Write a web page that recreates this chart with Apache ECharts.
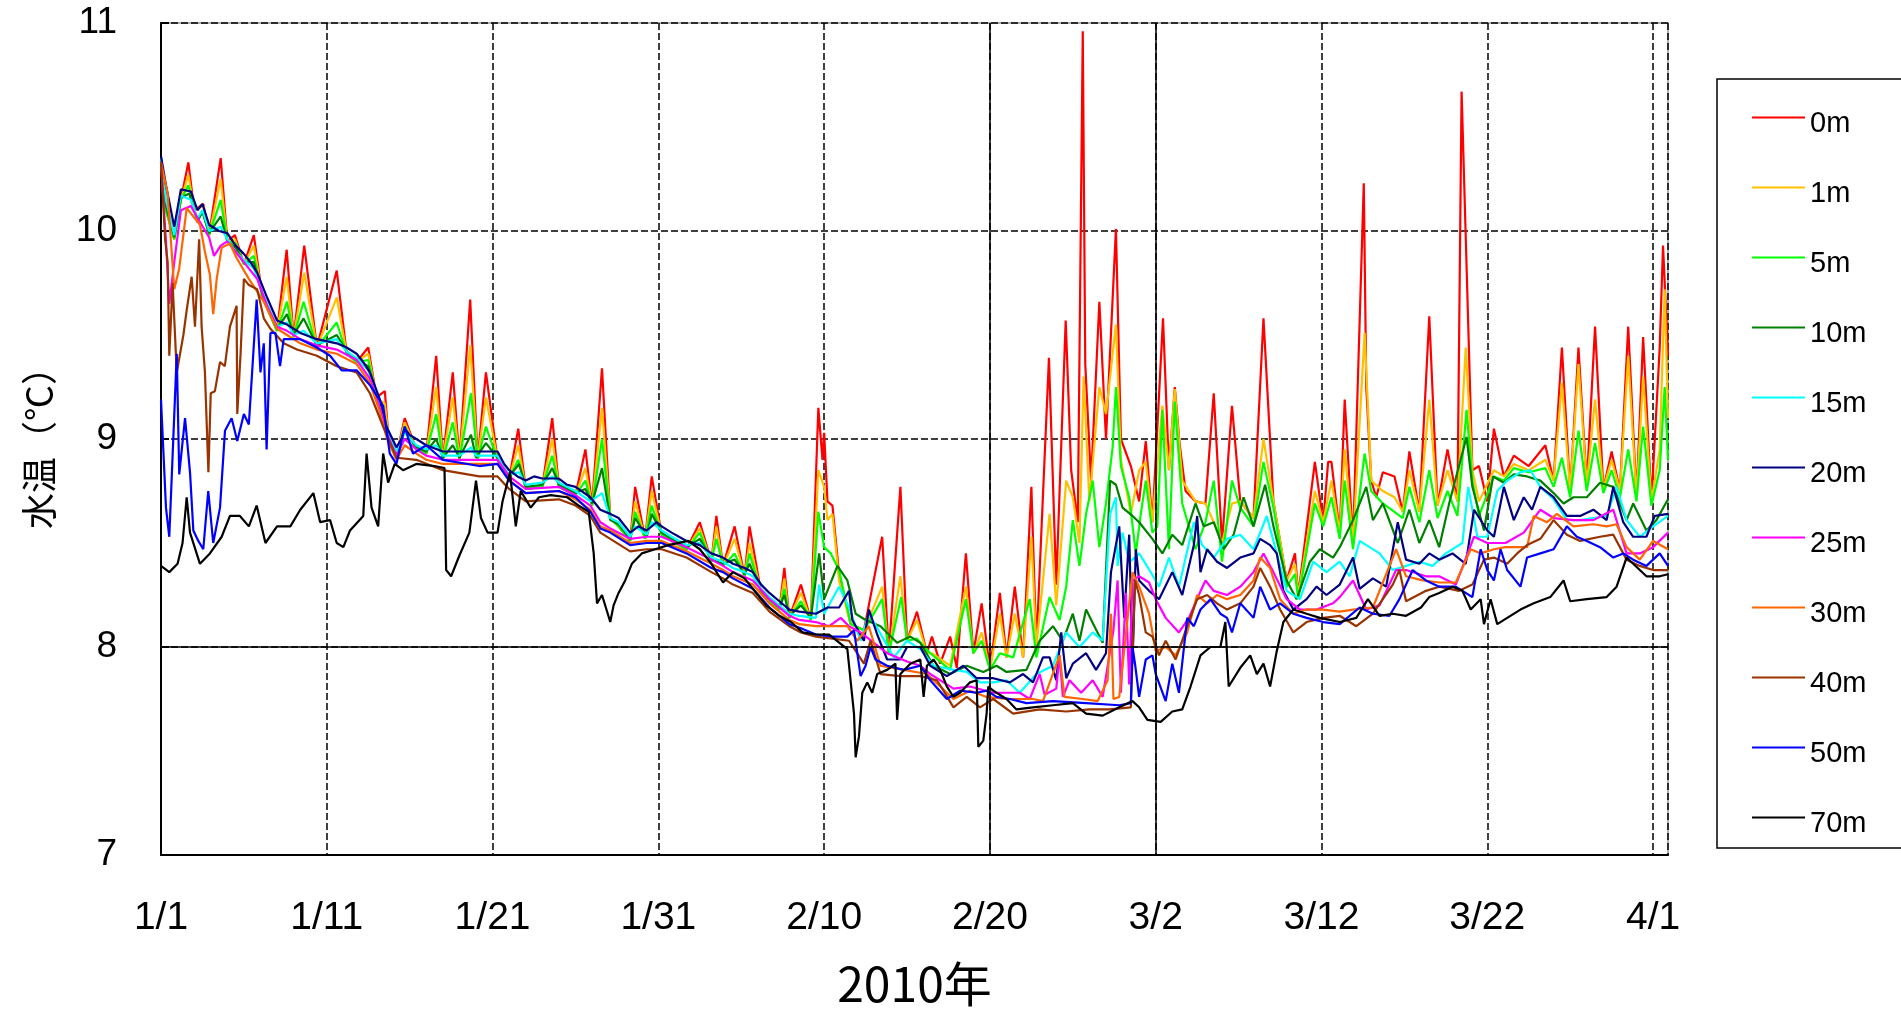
<!DOCTYPE html>
<html>
<head>
<meta charset="utf-8">
<script src="https://cdn.jsdelivr.net/npm/echarts@6/dist/echarts.min.js"></script>
<style>
html,body{margin:0;padding:0;background:#fff;}
#chart{width:1901px;height:1009px;}
</style>
</head>
<body>
<div id="chart"></div>
<script>
// x = days since 2010-01-01, y = water temperature (°C); stored as flat [day, value, day, value, ...]
const seriesNames = ['0m','1m','5m','10m','15m','20m','25m','30m','40m','50m','70m'];
const tickLabels = ['1/1','1/11','1/21','1/31','2/10','2/20','3/2','3/12','3/22','4/1'];
const yTicks = [7,8,9,10,11];

const s0m = [0,10.35, 0.3,10.1, 0.8,9.96, 1.2,10.15, 1.65,10.33, 2.0,10.1, 2.55,10.13, 2.9,9.98, 3.6,10.35, 4.0,9.95, 4.46,9.98, 5.0,9.84, 5.6,9.98, 6.1,9.69, 6.4,9.63, 7.0,9.52, 7.58,9.91, 8.0,9.49, 8.64,9.93, 9.4,9.44, 10.6,9.81, 11.2,9.41, 11.8,9.37, 12.5,9.44, 13.0,9.2, 13.5,9.23, 13.7,9.03, 14.2,8.92, 14.7,9.1, 15.4,8.95, 16.0,8.93, 16.6,9.40, 17.0,8.9, 17.6,9.32, 18.0,8.9, 18.65,9.67, 19.1,8.9, 19.6,9.32, 20.3,8.9, 21.0,8.81, 21.55,9.05, 22.0,8.76, 23.0,8.77, 23.6,9.10, 24.0,8.77, 25.0,8.73, 25.6,8.95, 26.0,8.68, 26.6,9.34, 27.1,8.62, 27.6,8.58, 28.3,8.51, 28.6,8.77, 29.2,8.52, 29.6,8.82, 30.2,8.54, 30.8,8.51, 31.7,8.47, 32.5,8.60, 33.2,8.41, 33.5,8.63, 33.9,8.39, 34.6,8.58, 35.2,8.34, 35.5,8.58, 36.2,8.26, 36.7,8.22, 37.3,8.18, 37.6,8.38, 37.9,8.14, 38.6,8.30, 39.2,8.13, 39.65,9.15, 39.9,8.9, 40.0,9.03, 40.2,8.7, 40.5,8.68, 40.9,8.35, 41.6,8.11, 42.4,8.08, 43.5,8.53, 43.9,7.97, 44.6,8.77, 45.0,8.03, 45.6,8.17, 46.2,7.97, 46.5,8.05, 47.0,7.92, 47.6,8.05, 48.0,7.9, 48.55,8.45, 49.0,7.97, 49.5,8.21, 50.0,7.89, 50.6,8.26, 51.0,7.95, 51.5,8.29, 52.0,7.95, 52.5,8.77, 52.8,8.0, 53.56,9.39, 54.0,8.3, 54.57,9.57, 54.9,8.85, 55.3,8.6, 55.6,10.96, 55.75,9.36, 56.1,8.8, 56.6,9.66, 57.0,9.0, 57.6,10.01, 57.9,9.0, 58.5,8.87, 59.0,8.7, 59.4,8.99, 59.8,8.6, 60.44,9.58, 60.8,8.85, 61.15,9.25, 61.45,8.97, 61.8,8.75, 62.4,8.7, 63.0,8.69, 63.5,9.22, 64.0,8.5, 64.6,9.16, 65.1,8.7, 65.9,8.62, 66.5,9.58, 67.1,8.7, 67.9,8.32, 68.4,8.45, 68.6,8.25, 69.6,8.89, 70.1,8.6, 70.4,8.89, 70.6,8.89, 71.1,8.55, 71.4,9.19, 71.9,8.5, 72.55,10.23, 72.7,9.25, 73.0,8.8, 73.3,8.72, 73.7,8.84, 74.4,8.82, 74.9,8.65, 75.3,8.94, 75.9,8.65, 76.5,9.59, 77.0,8.68, 77.6,8.95, 78.2,8.7, 78.45,10.67, 78.7,9.97, 79.1,8.85, 79.5,8.87, 80.0,8.7, 80.4,9.05, 81.0,8.82, 81.6,8.92, 82.5,8.87, 83.5,8.97, 84.0,8.8, 84.5,9.44, 85.0,8.75, 85.5,9.44, 86.0,8.78, 86.5,9.54, 87.0,8.76, 87.5,8.94, 88.0,8.75, 88.5,9.54, 89.0,8.72, 89.4,9.49, 89.9,8.7, 90.4,9.44, 90.6,9.93, 90.9,9.4];

const s1m = [0,10.34, 0.3,10.1, 0.8,9.96, 1.2,10.15, 1.65,10.27, 2.0,10.1, 2.55,10.12, 2.9,9.98, 3.6,10.25, 4.0,9.95, 4.46,9.96, 5.0,9.84, 5.6,9.93, 6.1,9.69, 6.4,9.63, 7.0,9.52, 7.58,9.78, 8.0,9.49, 8.64,9.8, 9.4,9.44, 10.6,9.68, 11.2,9.41, 11.8,9.37, 12.5,9.41, 13.0,9.2, 13.5,9.17, 13.7,9.03, 14.2,8.92, 14.7,9.08, 15.4,8.95, 16.0,8.93, 16.6,9.25, 17.0,8.9, 17.6,9.2, 18.0,8.9, 18.65,9.45, 19.1,8.9, 19.6,9.2, 20.3,8.9, 21.0,8.81, 21.55,8.97, 22.0,8.76, 23.0,8.77, 23.6,9.0, 24.0,8.77, 25.0,8.73, 25.6,8.86, 26.0,8.68, 26.6,9.15, 27.1,8.62, 27.6,8.58, 28.3,8.51, 28.6,8.7, 29.2,8.52, 29.6,8.75, 30.2,8.54, 30.8,8.51, 31.7,8.47, 32.5,8.57, 33.2,8.41, 33.5,8.58, 33.9,8.39, 34.6,8.52, 35.2,8.34, 35.5,8.5, 36.2,8.26, 36.7,8.22, 37.3,8.18, 37.6,8.33, 37.9,8.14, 38.6,8.26, 39.2,8.13, 39.65,8.85, 40.0,8.77, 40.2,8.61, 40.5,8.64, 40.9,8.32, 41.6,8.11, 42.4,8.08, 43.5,8.29, 43.9,7.97, 44.6,8.34, 45.0,8.03, 45.6,8.13, 46.2,7.97, 46.5,7.97, 47.6,7.91, 48.55,8.29, 49.0,7.97, 49.5,8.07, 50.0,7.89, 50.6,8.16, 51.0,7.95, 51.5,8.16, 52.0,7.95, 52.5,8.53, 52.8,8.0, 53.6,8.64, 54.0,8.2, 54.6,8.80, 55.0,8.72, 55.4,8.5, 55.65,9.3, 56.0,8.7, 56.6,9.25, 57.0,9.12, 57.6,9.55, 57.9,8.9, 58.5,8.64, 59.0,8.85, 59.4,8.89, 59.8,8.6, 60.4,9.16, 60.8,8.85, 61.15,9.24, 61.6,8.8, 62.4,8.7, 63.0,8.69, 63.5,8.6, 64.0,8.5, 64.6,8.69, 65.1,8.7, 65.9,8.62, 66.5,9.0, 67.1,8.7, 67.9,8.32, 68.4,8.4, 68.6,8.25, 69.6,8.75, 70.1,8.6, 70.6,8.8, 71.1,8.55, 71.4,8.95, 71.9,8.5, 72.6,9.51, 73.0,8.8, 73.7,8.75, 74.4,8.72, 74.9,8.65, 75.3,8.85, 75.9,8.65, 76.5,9.19, 77.0,8.68, 77.6,8.85, 78.2,8.7, 78.7,9.44, 79.1,8.85, 79.5,8.7, 80.4,8.85, 81.0,8.82, 81.6,8.88, 82.5,8.85, 83.5,8.9, 84.0,8.8, 84.5,9.27, 85.0,8.75, 85.5,9.36, 86.0,8.78, 86.5,9.19, 87.0,8.76, 87.5,8.9, 88.0,8.75, 88.5,9.40, 89.0,8.72, 89.4,9.30, 89.9,8.7, 90.4,8.95, 90.7,9.72, 90.9,9.1];

const s5m = [0,10.33, 0.3,10.1, 0.8,9.96, 1.2,10.15, 1.65,10.22, 2.2,10.04, 2.5,10.1, 2.9,9.98, 3.6,10.15, 4.0,9.95, 4.5,9.94, 5.0,9.84, 5.6,9.88, 6.1,9.69, 6.4,9.63, 7.0,9.52, 7.6,9.66, 8.0,9.49, 8.6,9.66, 9.4,9.44, 10.6,9.56, 11.2,9.41, 11.8,9.37, 12.5,9.38, 13.2,9.14, 13.5,9.1, 13.7,9.03, 14.2,8.92, 14.7,9.06, 15.4,8.95, 16.0,8.93, 16.6,9.12, 17.0,8.9, 17.6,9.08, 18.0,8.9, 18.7,9.22, 19.1,8.9, 19.6,9.06, 20.3,8.9, 21.0,8.81, 21.55,8.9, 22.0,8.76, 23.0,8.77, 23.6,8.92, 24.0,8.77, 25.0,8.73, 25.6,8.8, 26.0,8.68, 26.6,9.0, 27.1,8.62, 27.6,8.58, 28.3,8.51, 28.6,8.65, 29.2,8.52, 29.6,8.68, 30.2,8.54, 30.8,8.51, 31.7,8.47, 32.5,8.55, 33.2,8.41, 33.5,8.52, 33.9,8.39, 34.6,8.45, 35.2,8.34, 35.5,8.45, 36.2,8.26, 36.7,8.22, 37.3,8.18, 37.6,8.28, 37.9,8.14, 38.6,8.22, 39.2,8.13, 39.65,8.65, 40.0,8.48, 40.4,8.45, 40.9,8.37, 41.6,8.11, 42.4,8.08, 43.5,8.23, 43.9,7.97, 44.65,8.24, 45.0,8.03, 45.6,8.04, 46.4,7.97, 47.6,7.89, 48.55,8.23, 49.0,7.97, 49.5,8.03, 50.0,7.89, 50.6,7.97, 51.4,7.95, 52.4,8.23, 52.8,7.95, 53.6,8.24, 54.2,8.13, 54.6,8.29, 55.0,8.61, 55.4,8.39, 55.8,8.64, 56.2,8.80, 56.6,8.48, 57.0,8.69, 57.4,8.96, 57.6,9.25, 57.9,8.87, 58.4,8.72, 58.8,8.45, 59.1,8.64, 59.4,8.80, 59.8,8.55, 60.1,8.58, 60.4,9.14, 60.8,8.47, 61.15,9.18, 61.6,8.69, 62.4,8.47, 63.0,8.60, 63.5,8.80, 64.0,8.41, 64.6,8.80, 65.1,8.67, 65.9,8.58, 66.5,8.89, 67.1,8.67, 67.9,8.29, 68.4,8.35, 68.6,8.23, 69.6,8.69, 70.1,8.58, 70.6,8.72, 71.1,8.52, 71.4,8.80, 71.9,8.47, 72.6,8.93, 73.0,8.75, 73.7,8.69, 74.4,8.65, 74.9,8.62, 75.3,8.77, 75.9,8.60, 76.5,8.85, 77.0,8.62, 77.6,8.75, 78.2,8.63, 78.75,9.14, 79.1,8.80, 79.5,8.63, 80.4,8.82, 81.0,8.80, 81.6,8.86, 82.5,8.84, 83.5,8.86, 84.0,8.77, 84.5,8.91, 85.0,8.72, 85.5,9.04, 86.0,8.75, 86.5,8.98, 87.0,8.74, 87.5,8.85, 88.0,8.72, 88.5,8.95, 89.0,8.70, 89.4,9.06, 89.9,8.68, 90.4,8.85, 90.7,9.25, 90.9,8.90];

const s10m = [0,10.34, 0.3,10.12, 0.8,9.97, 1.2,10.16, 1.7,10.18, 2.2,10.05, 2.5,10.09, 2.9,9.99, 3.6,10.07, 4.0,9.95, 4.5,9.92, 5.0,9.85, 5.6,9.85, 6.1,9.7, 6.4,9.64, 7.0,9.53, 7.6,9.6, 8.0,9.5, 8.6,9.58, 9.4,9.45, 10.6,9.5, 11.2,9.42, 11.8,9.38, 12.5,9.35, 13.2,9.15, 13.6,9.04, 14.2,8.93, 14.7,9.04, 15.4,8.96, 16.0,8.94, 16.6,9.0, 17.0,8.91, 17.6,8.97, 18.0,8.91, 18.7,9.02, 19.0,8.91, 19.6,8.98, 20.3,8.91, 21.0,8.82, 21.6,8.88, 22.0,8.77, 23.0,8.78, 23.6,8.86, 24.0,8.78, 25.0,8.74, 25.6,8.76, 26.0,8.69, 26.6,8.86, 27.1,8.61, 27.6,8.59, 28.3,8.52, 28.6,8.62, 29.3,8.53, 29.6,8.64, 30.2,8.55, 30.8,8.52, 31.7,8.48, 32.5,8.52, 33.2,8.42, 33.9,8.4, 34.6,8.42, 35.2,8.35, 35.5,8.4, 36.2,8.27, 36.7,8.23, 37.3,8.19, 37.6,8.25, 37.9,8.15, 38.6,8.2, 39.2,8.14, 39.7,8.45, 40.0,8.23, 40.8,8.39, 41.4,8.32, 41.9,8.16, 42.5,8.13, 43.4,8.10, 44.4,8.02, 45.2,8.05, 45.8,8.02, 46.6,7.91, 47.6,7.87, 48.6,7.91, 49.6,7.88, 50.4,7.91, 51.0,7.88, 52.2,7.89, 53.0,8.03, 53.8,8.10, 54.4,8.03, 55.0,8.16, 55.4,8.03, 55.8,8.18, 56.3,8.10, 56.8,8.02, 57.25,8.80, 57.6,8.78, 58.0,8.67, 58.6,8.63, 59.0,8.60, 59.8,8.52, 60.4,8.45, 61.0,8.54, 61.6,8.49, 62.4,8.69, 62.9,8.58, 63.5,8.60, 64.1,8.47, 64.7,8.54, 65.3,8.72, 65.9,8.58, 66.6,8.78, 67.1,8.58, 67.9,8.32, 68.5,8.23, 69.3,8.41, 69.9,8.47, 70.7,8.43, 71.1,8.48, 71.9,8.61, 72.7,8.77, 73.1,8.61, 73.7,8.69, 74.6,8.50, 75.3,8.66, 75.9,8.50, 76.5,8.61, 77.1,8.48, 77.7,8.69, 78.75,9.01, 79.1,8.77, 79.8,8.56, 80.35,8.82, 81.0,8.79, 81.6,8.83, 82.4,8.82, 83.2,8.80, 84.0,8.74, 84.6,8.69, 85.2,8.72, 86.0,8.72, 86.8,8.79, 87.6,8.77, 88.4,8.61, 88.8,8.69, 89.6,8.56, 90.2,8.61, 90.9,8.71];

const s15m = [0,10.35, 0.3,10.15, 0.8,9.98, 1.2,10.17, 1.8,10.15, 2.2,10.06, 2.5,10.1, 2.9,10.0, 3.6,10.02, 4.0,9.96, 4.5,9.9, 5.0,9.86, 5.6,9.82, 6.1,9.71, 6.4,9.65, 7.0,9.54, 7.6,9.56, 8.0,9.5, 8.6,9.52, 9.4,9.46, 10.6,9.48, 11.2,9.42, 11.8,9.39, 12.5,9.33, 13.2,9.16, 13.6,9.04, 14.2,8.94, 14.7,9.03, 15.4,8.97, 16.0,8.95, 16.6,8.97, 17.0,8.92, 18.0,8.92, 18.7,8.96, 19.0,8.92, 20.3,8.92, 20.7,8.86, 21.0,8.83, 21.6,8.84, 22.0,8.78, 23.0,8.79, 23.6,8.82, 24.0,8.79, 25.0,8.75, 25.9,8.7, 26.6,8.74, 27.1,8.62, 27.6,8.6, 28.3,8.53, 28.6,8.58, 29.3,8.54, 29.6,8.6, 30.2,8.56, 30.8,8.53, 31.7,8.49, 32.5,8.5, 33.2,8.43, 33.9,8.41, 34.5,8.38, 35.2,8.36, 35.7,8.34, 36.2,8.28, 36.7,8.24, 37.3,8.2, 37.9,8.16, 38.5,8.15, 39.5,8.14, 39.7,8.3, 40.0,8.16, 40.9,8.29, 41.5,8.19, 42.2,8.03, 42.7,8.16, 43.5,8.05, 44.2,7.95, 45.0,8.03, 45.8,7.99, 46.6,7.91, 47.8,7.89, 48.6,7.88, 49.4,7.83, 50.2,7.83, 51.0,7.84, 51.8,7.78, 52.8,7.87, 53.8,7.91, 54.6,8.07, 55.4,8.0, 56.2,8.07, 56.8,8.03, 57.25,8.64, 57.6,8.72, 57.7,8.39, 58.0,8.55, 58.4,8.41, 58.6,8.42, 59.0,8.45, 59.7,8.36, 60.2,8.29, 60.8,8.43, 61.4,8.29, 62.3,8.6, 62.8,8.49, 63.5,8.43, 64.3,8.52, 65.1,8.54, 65.9,8.47, 66.7,8.63, 67.3,8.45, 67.9,8.27, 68.7,8.23, 69.5,8.41, 70.3,8.36, 71.1,8.41, 71.7,8.34, 72.3,8.51, 72.9,8.48, 73.5,8.45, 74.3,8.37, 75.1,8.39, 75.9,8.41, 76.7,8.39, 77.5,8.45, 78.5,8.50, 78.85,8.77, 79.4,8.53, 80.0,8.53, 80.6,8.75, 81.2,8.80, 82.0,8.84, 82.6,8.85, 83.2,8.77, 84.0,8.71, 84.8,8.61, 85.6,8.61, 86.4,8.62, 87.2,8.63, 87.8,8.77, 88.4,8.61, 89.2,8.53, 90.0,8.58, 90.9,8.63];

const s20m = [0,10.36, 0.3,10.22, 0.8,10.02, 1.2,10.2, 1.8,10.19, 2.2,10.1, 2.5,10.13, 2.9,10.03, 3.5,10.0, 4.0,9.99, 4.5,9.93, 5.0,9.89, 5.4,9.85, 5.8,9.8, 6.1,9.74, 6.4,9.68, 7.0,9.57, 7.6,9.55, 8.0,9.53, 8.4,9.51, 9.4,9.48, 10.6,9.46, 11.2,9.44, 11.8,9.41, 12.2,9.37, 12.6,9.32, 13.2,9.19, 13.6,9.06, 14.2,8.96, 14.5,9.0, 14.7,9.05, 15.0,9.02, 15.4,9.0, 16.0,8.97, 17.0,8.94, 18.0,8.94, 19.0,8.94, 20.3,8.94, 20.7,8.88, 21.0,8.85, 21.5,8.82, 22.0,8.8, 22.5,8.82, 23.0,8.81, 24.0,8.81, 24.5,8.78, 25.0,8.77, 25.9,8.72, 26.5,8.66, 27.1,8.64, 27.6,8.62, 28.3,8.55, 28.8,8.58, 29.3,8.56, 29.9,8.6, 30.2,8.58, 30.8,8.55, 31.7,8.51, 32.5,8.49, 33.2,8.45, 33.9,8.43, 34.5,8.4, 35.2,8.38, 35.7,8.36, 36.2,8.3, 36.7,8.26, 37.3,8.22, 37.9,8.18, 38.5,8.17, 39.5,8.16, 40.2,8.19, 40.9,8.19, 41.5,8.27, 41.7,8.13, 42.4,8.03, 42.7,8.18, 43.2,8.06, 43.8,7.94, 44.6,7.94, 45.0,8.0, 45.8,8.0, 46.4,7.91, 47.4,7.86, 48.4,7.91, 49.2,7.85, 50.2,7.85, 51.2,7.83, 52.0,7.87, 52.6,7.83, 53.2,7.95, 53.6,7.95, 54.0,7.84, 54.3,8.07, 54.6,7.85, 55.0,7.92, 55.8,7.97, 56.4,7.89, 57.0,7.97, 57.3,8.36, 57.8,8.58, 58.1,8.14, 58.4,8.54, 58.6,7.92, 58.8,8.47, 59.0,8.32, 59.6,8.27, 60.2,8.23, 61.0,8.36, 61.6,8.25, 62.3,8.49, 62.5,8.63, 62.7,8.36, 63.1,8.47, 63.7,8.41, 64.3,8.38, 65.1,8.43, 65.9,8.45, 66.3,8.52, 66.9,8.49, 67.3,8.45, 67.7,8.27, 68.3,8.18, 69.1,8.23, 69.7,8.29, 70.3,8.25, 71.1,8.30, 71.9,8.43, 72.3,8.28, 73.1,8.33, 73.9,8.29, 74.6,8.6, 75.1,8.42, 75.9,8.40, 76.5,8.45, 77.1,8.42, 77.9,8.45, 78.7,8.40, 79.2,8.66, 80.0,8.56, 80.4,8.53, 81.0,8.77, 81.6,8.61, 82.2,8.72, 82.7,8.66, 83.2,8.77, 84.0,8.72, 84.8,8.63, 85.6,8.63, 86.4,8.66, 87.2,8.61, 87.6,8.77, 88.2,8.60, 88.8,8.53, 89.6,8.53, 90.1,8.63, 90.9,8.64];

const s25m = [0,10.33, 0.3,9.95, 0.5,9.65, 0.8,9.85, 1.2,10.1, 1.8,10.12, 2.3,10.05, 2.9,9.97, 3.2,9.88, 3.6,9.93, 4.0,9.95, 4.5,9.9, 5.0,9.85, 5.8,9.77, 6.4,9.64, 7.0,9.54, 7.6,9.52, 8.4,9.48, 9.4,9.45, 10.6,9.43, 11.8,9.38, 12.6,9.29, 13.2,9.15, 13.6,9.03, 14.2,8.92, 14.7,9.0, 15.4,8.95, 16.0,8.92, 17.0,8.9, 20.3,8.9, 21.0,8.82, 22.0,8.76, 24.0,8.77, 25.0,8.73, 25.9,8.68, 26.5,8.6, 27.1,8.57, 28.3,8.52, 29.3,8.53, 30.2,8.53, 31.7,8.48, 33.2,8.42, 33.9,8.39, 34.5,8.36, 35.7,8.32, 36.7,8.23, 37.9,8.15, 38.5,8.13, 39.5,8.12, 40.3,8.1, 41.0,8.14, 41.5,8.1, 42.2,8.07, 43.0,8.02, 43.8,7.97, 45.0,7.93, 45.8,7.91, 46.4,7.87, 47.8,7.80, 48.8,7.81, 50.2,7.78, 51.8,7.78, 52.4,7.75, 53.0,7.87, 53.3,7.77, 54.0,7.80, 54.2,7.96, 54.4,7.76, 54.8,7.84, 55.5,7.78, 56.2,7.84, 56.8,7.76, 57.45,8.08, 57.7,8.32, 57.9,7.78, 58.2,8.26, 58.4,7.82, 58.6,8.32, 59.0,8.34, 59.6,8.31, 60.0,8.23, 60.6,8.14, 61.4,8.07, 62.0,8.14, 62.6,8.25, 63.0,8.32, 63.5,8.27, 64.3,8.25, 65.1,8.29, 65.9,8.36, 66.5,8.45, 67.1,8.36, 67.9,8.23, 68.7,8.18, 69.7,8.18, 70.7,8.21, 71.1,8.24, 71.9,8.32, 72.7,8.18, 73.5,8.20, 74.5,8.37, 75.1,8.37, 76.3,8.34, 77.1,8.34, 78.1,8.30, 79.2,8.53, 80.0,8.50, 81.1,8.50, 82.2,8.55, 83.2,8.66, 84.0,8.62, 85.2,8.61, 86.4,8.61, 87.6,8.66, 88.4,8.45, 89.2,8.45, 90.0,8.48, 90.9,8.55];

const s30m = [0,10.33, 0.4,10.18, 0.8,9.72, 1.1,9.82, 1.55,10.11, 1.95,10.07, 2.35,10.03, 2.65,9.9, 2.95,9.79, 3.15,9.6, 3.36,9.77, 3.66,9.92, 4.16,9.94, 4.56,9.87, 5.3,9.77, 6.2,9.66, 7.0,9.53, 7.6,9.5, 8.4,9.46, 9.4,9.43, 10.6,9.41, 11.8,9.36, 12.6,9.27, 13.2,9.13, 13.6,9.01, 14.2,8.9, 14.7,8.97, 15.4,8.93, 16.0,8.9, 17.0,8.88, 20.3,8.88, 21.0,8.8, 22.0,8.74, 24.0,8.75, 25.0,8.71, 25.9,8.66, 26.5,8.58, 27.1,8.56, 28.3,8.5, 29.3,8.51, 30.2,8.51, 31.7,8.46, 33.2,8.4, 33.9,8.37, 34.5,8.34, 35.7,8.3, 36.7,8.21, 37.9,8.13, 38.5,8.11, 39.5,8.1, 40.5,8.1, 41.4,8.1, 42.0,8.03, 42.7,8.10, 43.4,7.91, 44.8,7.89, 46.2,7.87, 47.8,7.75, 48.8,7.79, 49.8,7.76, 51.0,7.75, 52.6,7.75, 53.2,7.74, 54.2,7.96, 54.5,7.76, 55.6,7.75, 56.5,7.74, 57.1,7.84, 57.3,8.16, 57.45,7.75, 57.8,7.76, 58.6,8.36, 59.0,8.29, 59.6,8.16, 60.0,7.98, 60.6,8.0, 61.2,7.96, 61.9,8.07, 62.5,8.25, 63.1,8.21, 63.7,8.25, 64.3,8.23, 65.1,8.25, 65.9,8.32, 66.3,8.43, 66.9,8.38, 67.5,8.23, 68.3,8.16, 69.1,8.18, 70.1,8.18, 71.1,8.17, 71.9,8.18, 73.1,8.19, 74.5,8.47, 75.1,8.34, 76.1,8.32, 77.1,8.31, 78.1,8.31, 79.0,8.47, 79.6,8.45, 80.4,8.47, 81.1,8.48, 82.4,8.48, 82.8,8.63, 83.6,8.60, 84.2,8.64, 85.2,8.58, 86.4,8.59, 87.2,8.58, 87.8,8.59, 88.4,8.48, 89.2,8.42, 90.0,8.51, 90.9,8.47];

const s40m = [0,10.33, 0.25,9.96, 0.4,9.85, 0.5,9.40, 0.7,9.75, 0.95,9.32, 1.35,9.5, 1.55,9.62, 1.85,9.78, 2.05,9.54, 2.3,9.96, 2.45,9.54, 2.65,9.32, 2.86,8.84, 3.0,9.22, 3.25,9.23, 3.56,9.37, 3.85,9.35, 4.16,9.54, 4.56,9.64, 4.6,9.12, 4.8,9.41, 5.0,9.77, 5.3,9.74, 5.8,9.72, 6.2,9.58, 6.6,9.53, 7.4,9.46, 8.2,9.43, 9.4,9.4, 10.6,9.35, 11.8,9.32, 12.6,9.22, 13.4,9.06, 14.2,8.91, 15.4,8.9, 17.0,8.85, 19.2,8.82, 20.3,8.82, 21.0,8.76, 22.0,8.7, 24.0,8.71, 25.0,8.68, 25.9,8.63, 26.5,8.55, 27.1,8.52, 28.3,8.46, 29.3,8.47, 30.2,8.47, 31.7,8.43, 33.2,8.36, 33.9,8.33, 34.5,8.3, 35.7,8.26, 36.7,8.17, 37.9,8.1, 38.6,8.07, 39.5,8.05, 40.5,8.04, 41.5,8.03, 42.4,7.92, 42.8,8.03, 43.4,7.87, 44.6,7.86, 45.8,7.86, 46.8,7.84, 47.2,7.79, 47.8,7.71, 48.6,7.76, 49.4,7.71, 50.2,7.75, 51.4,7.68, 53.0,7.70, 54.6,7.69, 56.0,7.70, 57.2,7.70, 58.5,7.71, 58.75,8.32, 59.0,8.25, 59.4,8.07, 59.8,8.05, 60.2,7.96, 60.6,8.03, 61.2,7.94, 61.9,8.10, 62.5,8.23, 63.1,8.25, 63.7,8.21, 64.3,8.18, 65.1,8.21, 65.9,8.29, 66.3,8.38, 66.9,8.29, 67.5,8.18, 68.3,8.07, 69.1,8.12, 70.1,8.14, 71.1,8.15, 72.1,8.10, 73.1,8.16, 74.3,8.30, 74.7,8.37, 75.1,8.22, 76.3,8.27, 77.1,8.29, 78.3,8.27, 79.1,8.30, 79.8,8.42, 80.4,8.43, 81.2,8.40, 81.8,8.45, 82.4,8.49, 83.2,8.52, 84.0,8.61, 84.8,8.54, 85.6,8.51, 86.8,8.53, 87.6,8.54, 88.4,8.42, 89.2,8.39, 90.0,8.37, 90.9,8.37];

const s50m = [0,9.19, 0.3,8.67, 0.5,8.53, 0.7,8.92, 0.95,9.41, 1.1,8.83, 1.45,9.1, 1.75,8.84, 1.95,8.56, 2.25,8.51, 2.55,8.47, 2.85,8.75, 3.15,8.5, 3.56,8.67, 3.86,9.04, 4.26,9.1, 4.6,8.99, 5.0,9.12, 5.3,9.07, 5.77,9.67, 6.0,9.32, 6.2,9.46, 6.37,8.95, 6.6,9.51, 6.9,9.51, 7.18,9.35, 7.4,9.48, 8.4,9.48, 9.4,9.44, 10.2,9.4, 10.9,9.33, 11.8,9.33, 12.6,9.26, 13.4,9.16, 13.8,8.93, 14.2,8.88, 14.7,9.06, 15.2,8.93, 16.0,8.97, 17.0,8.9, 19.2,8.87, 20.3,8.88, 21.0,8.8, 22.0,8.74, 24.0,8.75, 25.0,8.72, 25.9,8.65, 26.5,8.57, 27.1,8.55, 28.3,8.49, 29.3,8.5, 30.2,8.5, 31.7,8.45, 33.2,8.38, 33.9,8.36, 34.5,8.33, 35.7,8.28, 36.7,8.19, 37.9,8.11, 38.6,8.09, 39.5,8.06, 40.5,8.05, 41.4,8.05, 41.8,8.08, 42.2,7.86, 42.5,7.91, 42.8,8.0, 43.1,7.94, 43.8,7.91, 44.8,7.89, 45.8,7.91, 46.4,7.84, 47.4,7.75, 48.2,7.79, 49.2,7.78, 49.8,7.79, 50.4,7.76, 51.2,7.75, 52.2,7.73, 53.8,7.74, 55.8,7.73, 57.8,7.72, 58.5,7.73, 58.6,8.0, 58.75,7.92, 59.0,7.76, 59.4,7.94, 59.8,7.96, 60.0,7.87, 60.6,7.74, 61.0,7.92, 61.4,7.78, 61.9,8.14, 62.3,8.10, 62.7,8.18, 63.3,8.23, 63.9,8.16, 64.3,8.14, 64.6,8.07, 65.1,8.21, 65.9,8.14, 66.3,8.29, 66.9,8.18, 67.5,8.21, 68.3,8.16, 69.1,8.14, 70.1,8.12, 71.1,8.11, 72.3,8.19, 73.1,8.16, 74.1,8.15, 74.7,8.23, 75.5,8.37, 76.3,8.32, 77.1,8.29, 78.1,8.29, 79.1,8.24, 79.6,8.47, 80.0,8.37, 80.4,8.32, 80.8,8.47, 81.2,8.37, 82.0,8.29, 82.4,8.43, 83.2,8.45, 84.0,8.47, 84.8,8.58, 85.4,8.53, 86.0,8.51, 86.8,8.48, 87.6,8.43, 88.2,8.45, 88.8,8.42, 89.6,8.39, 90.4,8.45, 90.9,8.39];

const s70m = [0,8.39, 0.5,8.36, 1.0,8.40, 1.3,8.5, 1.55,8.72, 1.75,8.55, 2.35,8.40, 2.95,8.45, 3.66,8.53, 4.16,8.63, 4.76,8.63, 5.3,8.58, 5.77,8.68, 6.3,8.50, 7.0,8.58, 7.8,8.58, 8.4,8.66, 9.19,8.74, 9.6,8.60, 10.2,8.61, 10.6,8.50, 11.0,8.48, 11.4,8.56, 12.2,8.63, 12.4,8.93, 12.7,8.67, 13.1,8.58, 13.4,8.93, 13.7,8.79, 14.1,8.88, 14.6,8.85, 15.4,8.88, 16.5,8.87, 17.1,8.86, 17.2,8.37, 17.5,8.34, 18.0,8.44, 18.6,8.55, 19.0,8.80, 19.3,8.62, 19.7,8.55, 20.3,8.55, 20.6,8.7, 21.05,8.84, 21.4,8.58, 21.7,8.75, 22.3,8.67, 22.8,8.72, 23.5,8.73, 24.5,8.72, 25.2,8.68, 25.8,8.65, 26.1,8.45, 26.3,8.21, 26.6,8.25, 27.1,8.12, 27.3,8.2, 27.6,8.26, 28.0,8.32, 28.4,8.40, 29.0,8.45, 29.8,8.47, 30.6,8.49, 31.8,8.51, 32.5,8.47, 33.2,8.40, 33.9,8.31, 34.5,8.36, 35.2,8.33, 35.7,8.28, 36.5,8.2, 37.3,8.15, 38.0,8.12, 38.7,8.07, 39.5,8.06, 40.3,8.06, 41.4,7.99, 41.8,7.68, 41.9,7.47, 42.1,7.57, 42.3,7.78, 42.6,7.83, 42.9,7.78, 43.2,7.87, 43.8,7.89, 44.3,7.92, 44.4,7.65, 44.6,7.87, 45.2,7.92, 45.8,7.94, 46.0,7.76, 46.2,7.91, 46.6,7.94, 47.0,7.89, 47.4,7.81, 47.8,7.76, 48.2,7.78, 48.8,7.83, 49.2,7.84, 49.3,7.52, 49.6,7.55, 49.8,7.68, 49.9,7.81, 50.2,7.79, 51.0,7.75, 51.6,7.70, 52.6,7.71, 53.8,7.72, 55.0,7.73, 55.8,7.68, 56.8,7.67, 57.8,7.71, 58.6,7.74, 59.0,7.71, 59.5,7.65, 60.3,7.64, 61.0,7.69, 61.6,7.70, 62.1,7.81, 62.7,7.96, 63.3,8.0, 63.9,8.0, 64.2,8.12, 64.4,7.81, 65.1,7.90, 65.7,7.96, 66.1,7.87, 66.5,7.92, 66.9,7.81, 67.3,7.98, 67.7,8.12, 68.3,8.18, 69.1,8.16, 69.9,8.14, 71.1,8.12, 71.6,8.13, 72.1,8.14, 72.8,8.23, 73.5,8.15, 74.3,8.16, 75.1,8.15, 76.0,8.19, 76.5,8.24, 77.1,8.26, 77.9,8.29, 78.5,8.27, 79.0,8.18, 79.6,8.23, 79.8,8.11, 80.2,8.23, 80.6,8.11, 81.2,8.14, 82.0,8.18, 82.8,8.21, 83.8,8.24, 84.6,8.32, 85.0,8.22, 86.0,8.23, 87.2,8.24, 87.8,8.29, 88.4,8.43, 89.2,8.37, 89.6,8.34, 90.4,8.34, 90.9,8.35];

const seriesData = [s0m, s1m, s5m, s10m, s15m, s20m, s25m, s30m, s40m, s50m, s70m];
const seriesColors = ['#FF0000','#FFC000','#00FF00','#008000','#00FFFF','#000080','#FF00FF','#FF6600','#993300','#0000FF','#000000'];
// gridlines that appear solid (not dashed) in the original
const solidXLines = [50, 60];
const solidYLines = [8];

function toPairs(flat) {
  const out = [];
  for (let i = 0; i < flat.length; i += 2) out.push([flat[i], flat[i + 1]]);
  return out;
}

const numFont = "'Liberation Sans', Arial, sans-serif";
const cjkFont = "'Noto Sans CJK JP', 'Liberation Sans', sans-serif";

const series = seriesNames.map(function (n, i) {
  return {
    name: n, type: 'line', data: toPairs(seriesData[i]),
    symbol: 'none', showSymbol: false, smooth: false, sampling: null,
    color: seriesColors[i],
    lineStyle: { color: seriesColors[i], width: 2.2 },
    emphasis: { disabled: true }
  };
});
series.unshift({
  name: 'grid-solid', type: 'line', data: [], silent: true, z: 1,
  markLine: {
    silent: true, symbol: 'none', label: { show: false },
    lineStyle: { color: '#000', width: 1.5, type: 'solid' },
    data: solidXLines.map(function (v) { return { xAxis: v }; })
      .concat(solidYLines.map(function (v) { return { yAxis: v }; }))
  }
});

const chart = echarts.init(document.getElementById('chart'), null, { renderer: 'canvas' });
chart.setOption({
  animation: false,
  backgroundColor: '#ffffff',
  grid: { left: 161, right: 233, top: 23, bottom: 154, show: true, borderColor: '#999999', borderWidth: 1.5, containLabel: false, outerBoundsMode: 'none' },
  legend: {
    orient: 'vertical', left: 1717, top: 79,
    data: seriesNames,
    icon: 'path://M0,0L53,0L53,2L0,2Z M0,14L0.001,14L0.001,14.001Z',
    itemWidth: 53, itemHeight: 16, itemGap: 41,
    padding: [30, 80, 10, 35],
    borderColor: '#000', borderWidth: 1.5,
    textStyle: { fontSize: 29, lineHeight: 28, color: '#000', fontFamily: numFont }
  },
  xAxis: {
    type: 'value', min: 0, max: 90.9, interval: 10,
    name: '2010年', nameLocation: 'middle', nameGap: 105,
    nameTextStyle: { fontSize: 48, color: '#000', fontFamily: cjkFont },
    axisLine: { show: true, lineStyle: { color: '#000', width: 2 } },
    axisTick: { show: false },
    axisLabel: {
      margin: 44, fontSize: 39, lineHeight: 39, color: '#000', fontFamily: numFont,
      formatter: function (v) { const i = Math.round(v / 10); return Math.abs(v - i * 10) < 1e-6 ? (tickLabels[i] || '') : ''; }
    },
    splitLine: { show: true, lineStyle: { color: '#000', width: 1.5, type: [7, 3] } }
  },
  yAxis: {
    type: 'value', min: yTicks[0], max: yTicks[yTicks.length - 1], interval: 1,
    name: '水温（℃）', nameLocation: 'middle', nameGap: 104, nameRotate: 90,
    nameTextStyle: { fontSize: 36, color: '#000', fontFamily: cjkFont },
    axisLine: { show: true, lineStyle: { color: '#000', width: 2 } },
    axisTick: { show: true, inside: true, length: 8, lineStyle: { color: '#000', width: 2 } },
    axisLabel: { margin: 44, fontSize: 37, color: '#000', fontFamily: numFont },
    splitLine: { show: true, lineStyle: { color: '#000', width: 1.5, type: [7, 3] } }
  },
  series: series
});
</script>
</body>
</html>
